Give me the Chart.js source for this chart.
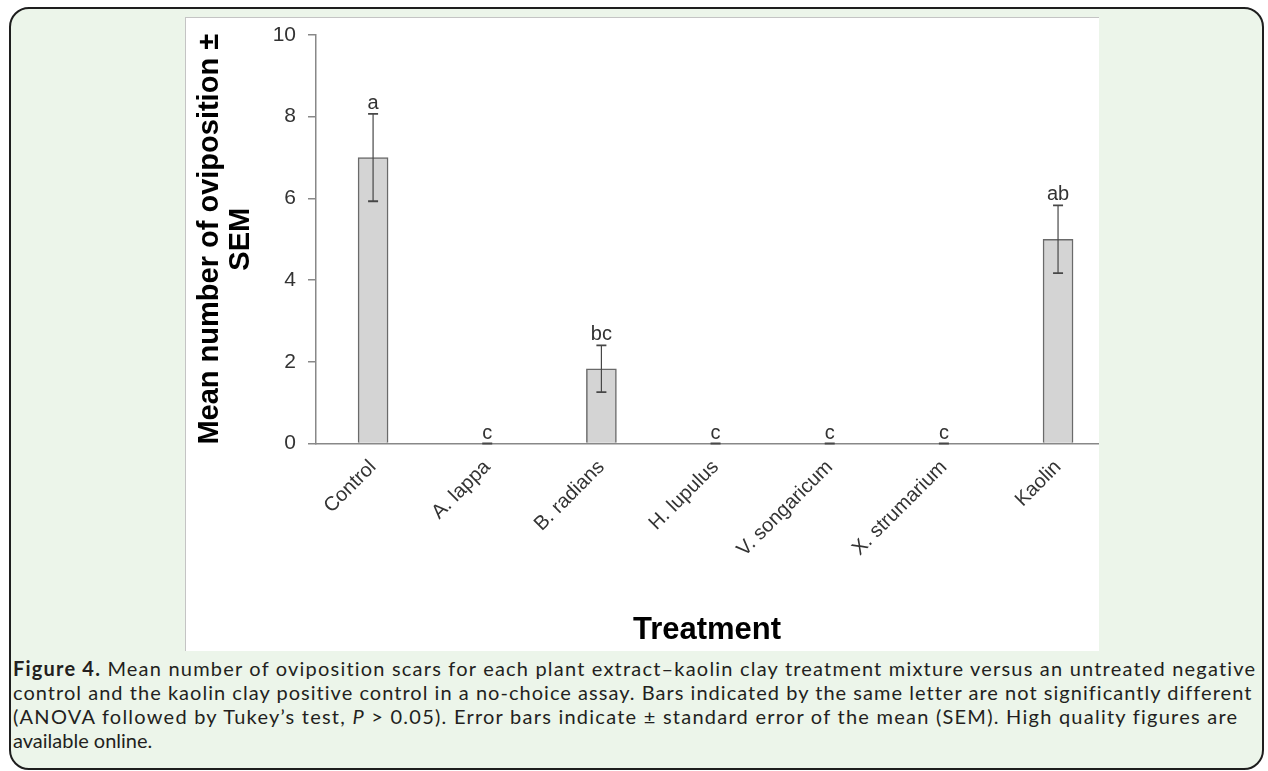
<!DOCTYPE html>
<html>
<head>
<meta charset="utf-8">
<script src="https://cdn.jsdelivr.net/npm/chart.js@4"></script>
<style>
  html, body { margin: 0; padding: 0; background: #fff; }
  body { width: 1268px; height: 771px; position: relative; overflow: hidden; }
  #frame {
    position: absolute; left: 9px; top: 7px; width: 1251px; height: 759px;
    border: 2px solid #1e1e1e; border-radius: 20px; background: #ecf5ea;
  }
  #panel {
    position: absolute; left: 185px; top: 17px; width: 914px; height: 634px;
    background: #fff; border-top: 1px solid #c4c4c4; border-left: 1px solid #c4c4c4;
    box-sizing: border-box;
  }
  #caption {
    position: absolute; left: 13px; top: 656px;
    font-family: Lato, "Noto Sans", sans-serif; font-size: 20px; line-height: 24px; color: #231f20;
  }
  #caption div { white-space: nowrap; }
</style>
</head>
<body>
<div id="frame"></div>
<div id="panel"><canvas id="myChart"></canvas></div>
<div id="caption">
  <div class="fit" data-right="1257"><b>Figure 4.</b> Mean number of oviposition scars for each plant extract–kaolin clay treatment mixture versus an untreated negative</div>
  <div class="fit" data-right="1251">control and the kaolin clay positive control in a no-choice assay. Bars indicated by the same letter are not significantly different</div>
  <div class="fit" data-right="1238">(ANOVA followed by Tukey’s test, <i>P</i> &gt; 0.05). Error bars indicate ± standard error of the mean (SEM). High quality figures are</div>
  <div>available online.</div>
</div>
<script>
const categories = ['Control', 'A. lappa', 'B. radians', 'H. lupulus', 'V. songaricum', 'X. strumarium', 'Kaolin'];
const means = [7.0, 0, 1.83, 0, 0, 0, 5.0];
const sems = [1.07, 0, 0.57, 0, 0, 0, 0.83];
const letters = ['a', 'c', 'bc', 'c', 'c', 'c', 'ab'];
const yTicks = [0, 2, 4, 6, 8, 10];

// spread each caption line so it ends where the original line ends
document.querySelectorAll('#caption .fit').forEach(el => {
  const r = el.getBoundingClientRect();
  const span = document.createElement('span');
  while (el.firstChild) span.appendChild(el.firstChild);
  el.appendChild(span);
  const w = span.getBoundingClientRect().width;
  const n = span.textContent.length;
  el.style.letterSpacing = ((+el.dataset.right - r.left - w) / n) + 'px';
});

const fontFam = '"Liberation Sans", Arial, sans-serif';

const errorBars = {
  id: 'errorBars',
  afterDatasetsDraw(chart) {
    const ctx = chart.ctx;
    const x = chart.scales.x;
    const y = chart.scales.y;
    ctx.save();
    means.forEach((m, i) => {
      const cx = x.getPixelForValue(i);
      const top = y.getPixelForValue(m + sems[i]);
      const bot = y.getPixelForValue(m - sems[i]);
      ctx.strokeStyle = '#474747';
      ctx.lineWidth = 1.2;
      ctx.beginPath();
      ctx.moveTo(cx, top);
      ctx.lineTo(cx, bot);
      ctx.stroke();
      ctx.lineWidth = 1.8;
      ctx.beginPath();
      ctx.moveTo(cx - 5, top); ctx.lineTo(cx + 5, top);
      ctx.moveTo(cx - 5, bot); ctx.lineTo(cx + 5, bot);
      ctx.stroke();
      ctx.fillStyle = '#333';
      ctx.font = '20px ' + fontFam;
      ctx.textAlign = 'center';
      ctx.textBaseline = 'alphabetic';
      ctx.fillText(letters[i], cx, top - 5);
    });
    ctx.restore();
  }
};

new Chart(document.getElementById('myChart'), {
  type: 'bar',
  data: {
    datasets: [{
      data: means.map((m, i) => ({x: i, y: m})),
      backgroundColor: '#d4d4d4',
      borderColor: '#6a6a6a',
      borderWidth: 1.5,
      barThickness: 30
    }]
  },
  options: {
    responsive: true,
    maintainAspectRatio: false,
    animation: false,
    layout: { padding: { top: 17, right: 1, left: 0, bottom: 0 } },
    plugins: { legend: { display: false }, tooltip: { enabled: false } },
    scales: {
      x: {
        type: 'linear',
        min: -0.5,
        max: 6.35,
        offset: false,
        afterBuildTicks: s => { s.ticks = categories.map((c, i) => ({value: i})); },
        afterFit: s => { s.height = 207.5; },
        grid: { display: false, drawTicks: false, offset: false },
        border: { color: '#888', width: 1.5 },
        ticks: {
          autoSkip: false, minRotation: 45, maxRotation: 45, padding: 12,
          color: '#333', font: { family: fontFam, size: 20 },
          callback: v => categories[v]
        },
        title: {
          display: true, text: 'Treatment', color: '#000',
          font: { family: fontFam, size: 31, weight: 'bold', lineHeight: 1.2 },
          padding: { top: 0, bottom: 2 }
        }
      },
      y: {
        min: 0,
        max: 10,
        afterBuildTicks: s => { s.ticks = yTicks.map(v => ({value: v})); },
        afterFit: s => { s.width = 130; s.paddingTop = 0; s.paddingBottom = 0; },
        grid: { drawOnChartArea: false, tickLength: 8, color: '#888', lineWidth: 1.5 },
        border: { color: '#888', width: 1.5 },
        ticks: { padding: 12, color: '#333', font: { family: fontFam, size: 21 } },
        title: {
          display: true, text: ['Mean number of oviposition ±', 'SEM'], color: '#000',
          font: { family: fontFam, size: 29, weight: 'bold', lineHeight: 1.05 },
          padding: { top: 9, bottom: 0 }
        }
      }
    }
  },
  plugins: [errorBars]
});
</script>
</body>
</html>
